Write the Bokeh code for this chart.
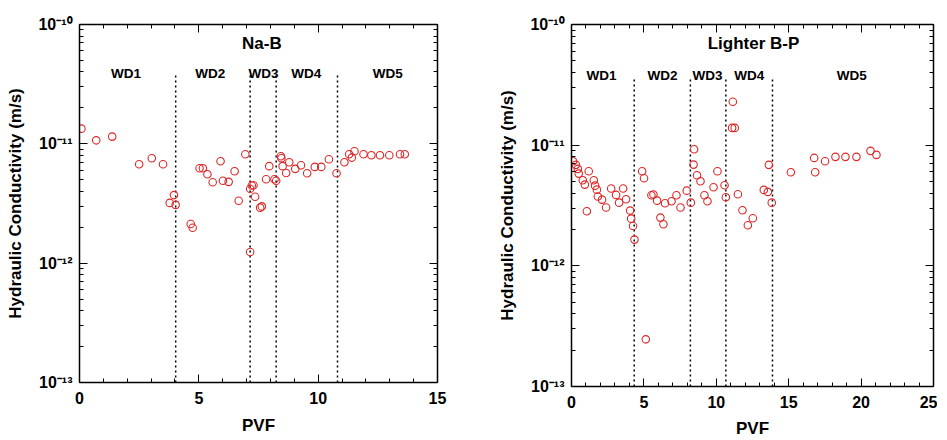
from bokeh.plotting import figure
from bokeh.layouts import row
from bokeh.models import (Label, LogAxis, LinearAxis, FixedTicker, CustomJSTickFormatter)
from bokeh.embed import file_html
from bokeh.resources import INLINE

# ---------------- data ----------------
# Na-B
nab_pvf = [0.08, 0.70, 1.37, 2.50, 3.03, 3.50, 3.78, 3.96, 4.03, 4.66, 4.74, 5.03, 5.17, 5.36,
           5.58, 5.91, 6.01, 6.25, 6.50, 6.67, 6.95, 7.15, 7.15, 7.22, 7.29, 7.36, 7.57, 7.64,
           7.82, 7.95, 8.17, 8.24, 8.44, 8.46, 8.51, 8.66, 8.79, 9.04, 9.28, 9.54, 9.86, 10.13,
           10.45, 10.77, 11.10, 11.30, 11.41, 11.52, 11.90, 12.23, 12.59, 12.98, 13.43, 13.63]
nab_k = [1.34e-11, 1.07e-11, 1.15e-11, 6.75e-12, 7.57e-12, 6.75e-12, 3.2e-12, 3.72e-12, 3.08e-12,
         2.13e-12, 1.98e-12, 6.25e-12, 6.25e-12, 5.56e-12, 4.77e-12, 7.15e-12, 4.9e-12, 4.8e-12,
         5.9e-12, 3.33e-12, 8.18e-12, 1.24e-12, 4.2e-12, 4.47e-12, 4.5e-12, 3.6e-12, 2.92e-12,
         2.99e-12, 5.05e-12, 6.5e-12, 5.05e-12, 4.9e-12, 7.87e-12, 7.57e-12, 6.5e-12, 5.7e-12,
         7.0e-12, 6.17e-12, 6.62e-12, 5.67e-12, 6.41e-12, 6.41e-12, 7.43e-12, 5.67e-12, 7.0e-12,
         8.18e-12, 7.67e-12, 8.67e-12, 8.18e-12, 8.03e-12, 8.03e-12, 8.03e-12, 8.18e-12, 8.18e-12]
nab_bounds = [4.03, 7.15, 8.24, 10.81]
nab_bound_top = 3.96e-11
nab_wd_x = [1.95, 5.48, 7.71, 9.50, 12.92]
nab_x_ticks = [0, 5, 10, 15]

# Lighter B-P
lbp_pvf = [0.11, 0.30, 0.44, 0.50, 0.78, 0.92, 1.06, 1.19, 1.54, 1.63, 1.75, 1.82, 2.11, 2.39,
           2.74, 3.08, 3.29, 3.57, 3.77, 4.05, 4.12, 4.25, 4.35, 4.88, 5.01, 5.13, 5.52, 5.66,
           5.91, 6.14, 6.35, 6.46, 6.91, 7.25, 7.53, 7.96, 8.24, 8.43, 8.47, 8.67, 8.91, 9.18,
           9.39, 9.81, 10.08, 10.57, 10.66, 11.09, 11.14, 11.27, 11.49, 11.81, 12.18, 12.52,
           13.28, 13.56, 13.63, 13.83, 15.15, 16.76, 16.83, 17.51, 18.23, 18.92, 19.68, 20.65,
           21.06]
lbp_k = [7.36e-12, 6.87e-12, 6.36e-12, 5.81e-12, 5.12e-12, 4.71e-12, 2.83e-12, 6.08e-12, 5.12e-12,
         4.62e-12, 4.28e-12, 3.75e-12, 3.54e-12, 3.04e-12, 4.37e-12, 3.87e-12, 3.34e-12, 4.37e-12,
         3.56e-12, 2.87e-12, 2.46e-12, 2.14e-12, 1.65e-12, 6.08e-12, 5.32e-12, 2.46e-13, 3.84e-12,
         3.9e-12, 3.47e-12, 2.51e-12, 2.21e-12, 3.3e-12, 3.43e-12, 3.84e-12, 3.04e-12, 4.2e-12,
         3.34e-12, 6.9e-12, 9.25e-12, 5.63e-12, 5.02e-12, 3.84e-12, 3.43e-12, 4.48e-12, 6.08e-12,
         4.65e-12, 3.7e-12, 1.39e-11, 2.29e-11, 1.39e-11, 3.92e-12, 2.89e-12, 2.17e-12, 2.48e-12,
         4.26e-12, 4.1e-12, 6.87e-12, 3.34e-12, 5.96e-12, 7.84e-12, 5.96e-12, 7.36e-12, 8.0e-12,
         8.0e-12, 8.0e-12, 8.97e-12, 8.31e-12]
lbp_bounds = [4.33, 8.21, 10.66, 13.88]
lbp_bound_top = 3.63e-11
lbp_wd_x = [2.07, 6.28, 9.39, 12.27, 19.35]
lbp_x_ticks = [0, 5, 10, 15, 20, 25]

wd_names = ["WD1", "WD2", "WD3", "WD4", "WD5"]
y_ticks = [1e-13, 1e-12, 1e-11, 1e-10]
y_tick_labels = ["10\u207b\u00b9\u00b3", "10\u207b\u00b9\u00b2", "10\u207b\u00b9\u00b9", "10\u207b\u00b9\u2070"]
y_min, y_max = 1e-13, 1e-10

FONT = "Liberation Sans"
RED = "#e02626"
EMPTY = CustomJSTickFormatter(code="return ''")


def style_axis(ax):
    ax.axis_line_color = "black"
    ax.axis_line_width = 1.5
    ax.major_tick_line_color = "black"
    ax.minor_tick_line_color = "black"
    ax.major_tick_line_width = 1
    ax.minor_tick_line_width = 1
    ax.major_tick_in = 8
    ax.major_tick_out = 0
    ax.minor_tick_in = 4
    ax.minor_tick_out = 0


def make_panel(title, pvf, k, bounds, bound_top, wd_x, x_ticks, title_x,
               fw, fh, bl, br, bb, wd_y, xlab_standoff):
    x_max = x_ticks[-1]
    p = figure(frame_width=fw, frame_height=fh, x_range=(0, x_max), y_range=(y_min, y_max),
               y_axis_type="log", output_backend="svg", toolbar_location=None,
               min_border_left=bl, min_border_right=br, min_border_top=24, min_border_bottom=bb)
    p.outline_line_color = None
    p.xgrid.visible = False
    p.ygrid.visible = False

    x_minor = [a + i * (x_ticks[1] - x_ticks[0]) / 5 for a in x_ticks[:-1] for i in range(1, 5)]
    y_minor = [t * m for t in y_ticks[:-1] for m in range(2, 10)]
    xt = FixedTicker(ticks=x_ticks, minor_ticks=x_minor)
    yt = FixedTicker(ticks=y_ticks, minor_ticks=y_minor)

    xa = p.xaxis[0]
    xa.ticker = xt
    style_axis(xa)
    xa.major_label_text_font = FONT
    xa.major_label_text_font_style = "bold"
    xa.major_label_text_font_size = "16px"
    xa.major_label_text_color = "black"
    xa.major_label_standoff = 9
    xa.axis_label = "PVF"
    xa.axis_label_text_font = FONT
    xa.axis_label_text_font_style = "bold"
    xa.axis_label_text_font_size = "17px"
    xa.axis_label_text_color = "black"
    xa.axis_label_standoff = xlab_standoff

    ya = p.yaxis[0]
    ya.ticker = yt
    style_axis(ya)
    ya.formatter = CustomJSTickFormatter(
        args=dict(tick_vals=y_ticks, tick_texts=y_tick_labels),
        code="const i = tick_vals.indexOf(tick); return i >= 0 ? tick_texts[i] : '';")
    ya.major_label_text_font = FONT
    ya.major_label_text_font_style = "bold"
    ya.major_label_text_font_size = "16px"
    ya.major_label_text_color = "black"
    ya.major_label_standoff = 7
    ya.axis_label = "Hydraulic Conductivity (m/s)"
    ya.axis_label_text_font = FONT
    ya.axis_label_text_font_style = "bold"
    ya.axis_label_text_font_size = "17px"
    ya.axis_label_text_color = "black"
    ya.axis_label_standoff = 10

    top = LinearAxis(ticker=xt, formatter=EMPTY, major_label_standoff=0)
    style_axis(top)
    p.add_layout(top, "above")
    right = LogAxis(ticker=yt, formatter=EMPTY, major_label_standoff=0)
    style_axis(right)
    p.add_layout(right, "right")

    # boundaries between water displacement stages
    p.segment(x0=bounds, x1=bounds, y0=[y_min] * len(bounds), y1=[bound_top] * len(bounds),
              line_color="black", line_width=1.5, line_dash="2 3")

    # data
    p.scatter(pvf, k, marker="circle", size=7.5, fill_color=None,
              line_color=RED, line_width=1.1)

    # texts inside the plot
    p.add_layout(Label(x=title_x, y=6.9e-11, text=title, text_align="center",
                       text_baseline="middle", text_font=FONT, text_font_style="bold",
                       text_font_size="17px", text_color="black"))
    for name, xx in zip(wd_names, wd_x):
        p.add_layout(Label(x=xx, y=wd_y, text=name, text_align="center",
                           text_baseline="middle", text_font=FONT, text_font_style="bold",
                           text_font_size="13.5px", text_color="black"))
    return p


p1 = make_panel("Na-B", nab_pvf, nab_k, nab_bounds, nab_bound_top, nab_wd_x, nab_x_ticks, 7.64,
                358, 358, 79, 30, 52, 3.9e-11, 9)
p2 = make_panel("Lighter B-P", lbp_pvf, lbp_k, lbp_bounds, lbp_bound_top, lbp_wd_x, lbp_x_ticks,
                12.57, 362, 362, 104, 4, 52, 3.8e-11, 8)

layout = row(p1, p2)
open("out.html", "w").write(file_html(layout, INLINE))
